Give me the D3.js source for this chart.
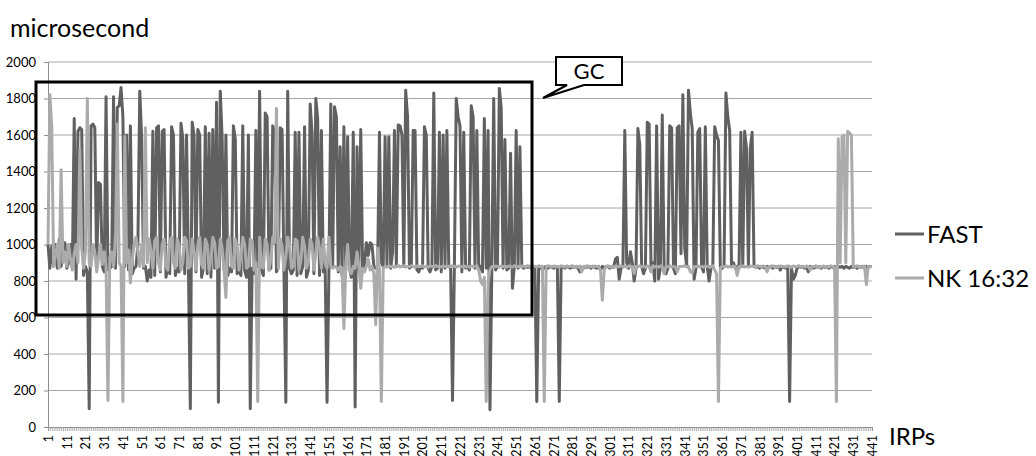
<!DOCTYPE html>
<html>
<head>
<meta charset="utf-8">
<script src="https://cdn.jsdelivr.net/npm/d3@7"></script>
<style>
  body { margin: 0; background: #fff; }
  svg { display: block; font-family: Lato, "Noto Sans", sans-serif; }
</style>
</head>
<body>
<script>
//series names and y ticks
var seriesNames = ["FAST", "NK 16:32"];
var yTicks = [0, 200, 400, 600, 800, 1000, 1200, 1400, 1600, 1800, 2000];

//FAST latency per IRP (microsecond)
var fastValues = [
  1000,870,990,880,1000,870,1030,880,960,1010,870,900,1000,870,1690,810,1620,1640,1630,830,
  880,850,100,1650,1660,1640,870,1340,1330,880,850,1810,860,870,880,1810,870,1750,1760,1860,
  1700,880,1600,860,1650,840,870,880,1000,1840,1590,870,880,800,860,820,1620,830,1640,1650,
  850,1620,1630,820,880,840,1645,1600,830,870,850,1665,1580,840,1600,860,100,1670,1600,850,
  1630,1600,820,870,1645,840,1610,820,1630,870,1780,135,1840,1580,860,1600,830,870,850,1650,
  1580,840,870,830,1650,860,820,1600,100,870,840,1625,880,1840,860,830,1720,1700,860,870,
  1650,1620,850,880,1640,1630,850,135,1840,870,840,860,1615,830,1615,840,880,1645,820,860,
  1770,1610,840,1800,1690,830,1625,850,870,135,860,1770,880,1755,1700,850,1535,830,1645,860,
  1590,870,820,1615,110,1535,860,1630,870,890,1010,940,1010,1000,880,870,880,1615,900,880,
  1590,880,1590,870,960,1625,880,1655,1650,1600,880,1845,1700,870,880,1625,1625,860,850,880,
  870,1645,1600,870,850,880,1830,860,870,1615,850,1600,870,1625,880,870,145,880,1800,1700,
  1650,850,1615,870,880,860,1760,1700,870,1625,860,880,850,1690,870,1625,95,870,1800,860,
  880,1855,1750,870,1575,860,870,1500,760,880,1625,870,1535,880,870,880,875,880,870,880,
  870,140,870,880,860,875,880,870,880,875,870,880,870,140,870,880,870,880,875,870,
  880,875,880,870,850,875,870,880,875,880,870,880,875,870,880,860,880,870,880,880,
  870,880,875,920,930,810,870,880,1625,900,870,960,900,800,870,1635,1545,880,840,870,
  1670,1660,880,900,800,1650,810,870,1710,880,840,870,1650,1640,870,840,1640,1650,950,1820,
  980,880,1845,1720,1635,810,870,1615,1635,880,850,1645,880,800,870,880,1645,1600,1570,880,
  870,880,1830,1700,1625,880,900,870,880,870,1615,880,1620,1525,880,1525,1615,880,875,880,
  870,880,875,870,880,875,880,870,880,875,880,860,880,875,870,880,140,870,810,830,
  870,880,875,880,870,880,850,880,875,870,880,875,880,870,880,875,880,870,880,875,
  880,870,880,875,880,870,880,875,870,880,875,880,870,880,875,880,870,880,875,880,880
];

//NK 16:32 latency per IRP (microsecond)
var nkValues = [
  1000,1820,1640,880,940,1000,870,1410,900,960,880,1000,920,860,950,1000,900,1520,980,870,
  960,1800,900,880,1000,960,850,930,1000,890,960,880,145,930,960,880,1000,1660,900,880,
  140,1590,900,970,790,920,1000,1040,960,880,1000,880,1640,900,1030,960,870,1020,1040,900,
  860,1000,1030,880,860,1020,1040,900,870,1030,1000,860,900,1040,1020,870,880,1030,960,860,
  1000,1040,890,870,1030,1000,860,920,1040,1010,870,880,1030,980,860,710,1020,1040,880,870,
  1030,990,860,940,1040,1000,870,880,1030,1020,860,900,140,1040,880,870,1030,1000,860,920,
  1040,1010,1745,870,1030,990,860,930,1040,1000,870,880,1030,1020,860,910,1040,990,870,900,
  1030,1000,860,950,1040,980,870,1030,900,870,1040,880,870,880,875,860,880,870,540,880,
  1000,860,840,880,870,960,880,760,870,850,880,920,860,880,840,560,980,860,140,870,
  880,876,884,878,882,875,880,885,877,880,883,876,880,878,884,880,875,882,879,880,
  884,877,880,876,882,880,878,885,879,880,876,883,880,877,881,879,884,880,876,882,
  880,878,884,877,880,876,882,879,880,884,860,800,780,820,140,790,860,880,878,882,
  880,876,884,879,880,877,882,880,876,884,879,880,877,882,880,878,884,880,876,882,
  880,877,883,879,880,140,878,884,880,876,882,879,880,877,883,880,876,882,879,880,
  884,877,880,876,882,850,880,878,884,877,880,876,882,879,880,860,695,860,880,884,
  877,880,876,882,880,878,884,877,880,876,882,879,880,840,880,878,884,877,880,876,
  882,880,850,884,877,880,876,882,879,840,880,878,884,877,880,876,850,880,879,880,
  884,877,880,850,845,880,878,884,877,880,876,882,879,880,877,883,860,840,140,870,
  880,878,884,877,880,876,882,879,830,880,878,884,877,880,876,882,879,880,877,883,
  880,876,882,879,850,880,878,884,877,880,876,882,879,880,877,883,880,876,882,879,
  880,884,877,880,876,882,879,860,880,878,884,877,880,876,882,879,880,877,883,880,
  876,140,1580,900,1590,1600,900,1620,1610,1600,880,878,884,877,880,876,882,780,880,878,880
];

//IRP numbers 1..N
var irps = d3.range(1, fastValues.length + 1);

var width = 1036, height = 456;
var plotLeft = 48, plotRight = 872, plotTop = 62, plotBottom = 427;

var svg = d3.select("body").append("svg")
    .attr("width", width)
    .attr("height", height);

var x = d3.scalePoint()
    .domain(irps)
    .range([plotLeft, plotRight]);

var y = d3.scaleLinear()
    .domain([0, 2000])
    .range([plotBottom, plotTop]);

//horizontal gridlines
svg.append("g")
    .selectAll("line")
    .data(yTicks.filter(function(d){ return d > 0; }))
    .enter()
    .append("line")
    .attr("x1", plotLeft)
    .attr("x2", plotRight)
    .attr("y1", function(d){ return y(d); })
    .attr("y2", function(d){ return y(d); })
    .attr("stroke", "#a6a6a6")
    .attr("stroke-width", 1);

//y axis
var yAxis = svg.append("g")
    .attr("transform", "translate(" + plotLeft + ",0)")
    .call(d3.axisLeft(y).tickValues(yTicks).tickFormat(d3.format("d")).tickSize(4).tickPadding(8));
yAxis.select(".domain").attr("stroke", "#8c8c8c");
yAxis.selectAll(".tick line").attr("stroke", "#8c8c8c");
yAxis.selectAll("text")
    .attr("font-size", 13)
    .attr("font-family", "Lato, 'Noto Sans', sans-serif")
    .attr("fill", "#000");

//x axis: one tick per IRP, label every tenth
var xAxis = svg.append("g")
    .attr("transform", "translate(0," + plotBottom + ")")
    .call(d3.axisBottom(x)
        .tickValues(irps)
        .tickSize(4)
        .tickFormat(function(d){ return (d - 1) % 10 === 0 ? d : ""; }));
xAxis.select(".domain").attr("stroke", "#8c8c8c");
xAxis.selectAll(".tick line").attr("stroke", "#9a9a9a").attr("stroke-width", 0.8);
xAxis.selectAll("text")
    .attr("font-size", 12.5)
    .attr("font-family", "Lato, 'Noto Sans', sans-serif")
    .attr("fill", "#000")
    .attr("text-anchor", "end")
    .attr("transform", "rotate(-90)")
    .attr("x", -8)
    .attr("y", 0)
    .attr("dy", "0.35em");

//lines
var line = d3.line()
    .x(function(d, i){ return x(irps[i]); })
    .y(function(d){ return y(d); });

var colors = ["#606060", "#ababab"];
[fastValues, nkValues].forEach(function(vals, k){
    svg.append("path")
        .datum(vals)
        .attr("fill", "none")
        .attr("stroke", colors[k])
        .attr("stroke-width", 3)
        .attr("stroke-linejoin", "round")
        .attr("d", line);
});

//GC box and callout
svg.append("rect")
    .attr("x", 36).attr("y", 82)
    .attr("width", 496).attr("height", 233)
    .attr("fill", "none")
    .attr("stroke", "#000")
    .attr("stroke-width", 3);

svg.append("path")
    .attr("d", "M556,57 H622 V85 H584 L543,98 L567,85 H556 Z")
    .attr("fill", "#fff")
    .attr("stroke", "#000")
    .attr("stroke-width", 2)
    .attr("stroke-linejoin", "miter");
svg.append("text")
    .attr("x", 589).attr("y", 79)
    .attr("text-anchor", "middle")
    .attr("font-size", 22)
    .text("GC");

//titles
svg.append("text")
    .attr("x", 10).attr("y", 37)
    .attr("font-size", 25)
    .text("microsecond");
svg.append("text")
    .attr("x", 889).attr("y", 445)
    .attr("font-size", 24)
    .text("IRPs");

//legend
var legend = svg.selectAll(".legend")
    .data(seriesNames)
    .enter()
    .append("g")
    .attr("class", "legend")
    .attr("transform", function(d, i){ return "translate(895," + (234 + i * 44) + ")"; });
legend.append("line")
    .attr("x1", 0).attr("x2", 29)
    .attr("stroke", function(d, i){ return colors[i]; })
    .attr("stroke-width", 3);
legend.append("text")
    .attr("x", 32).attr("y", 9)
    .attr("font-size", 24)
    .text(function(d){ return d; });
</script>
</body>
</html>
